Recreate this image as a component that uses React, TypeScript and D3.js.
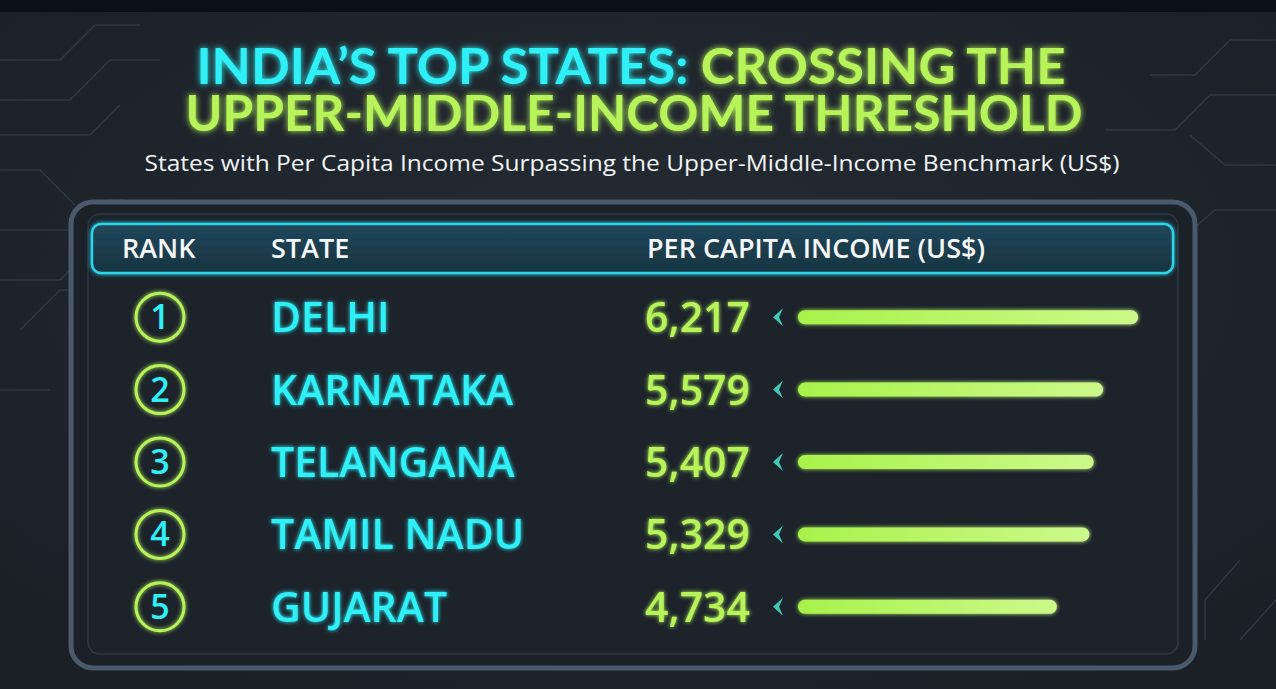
import React from 'react';
import * as d3 from 'd3';

const W = 1276;
const H = 689;

const ranks = ['1', '2', '3', '4', '5'];
const states = ['DELHI', 'KARNATAKA', 'TELANGANA', 'TAMIL NADU', 'GUJARAT'];
const incomes = [6217, 5579, 5407, 5329, 4734];
const headers = ['RANK', 'STATE', 'PER CAPITA INCOME (US$)'];

const CYAN = '#2ff0f6';
const GREEN = '#b6f45a';
const FONT = "'Open Sans', 'Noto Sans', sans-serif";
const TITLE_FONT = "Lato, 'Open Sans', sans-serif";

// decorative circuit traces in the corners
const circuitLeft = [
  'M0,60 L60,60 L95,25 L140,25',
  'M0,100 L70,100 L110,60 L160,60',
  'M0,135 L90,135 L120,105',
  'M0,170 L40,170 L75,205',
  'M0,230 L80,230 L110,200 L125,200',
  'M0,280 L60,280 L95,245',
  'M20,330 L60,290 L95,290',
  'M0,390 L50,390',
];
const circuitRight = [
  'M1276,40 L1230,40 L1195,75 L1150,75',
  'M1276,95 L1210,95 L1175,130 L1105,130',
  'M1276,165 L1225,165 L1190,135',
  'M1276,210 L1215,210 L1180,240',
  'M1240,560 L1205,600 L1205,640',
  'M1276,600 L1240,640',
];

export default function App() {
  const band = d3.scaleBand<string>().domain(states).range([281, 643]).padding(0);
  const x = d3.scaleLinear().domain([0, d3.max(incomes) as number]).range([0, 340]);
  const fmt = d3.format(',');
  const barX = 798;

  return (
    <svg width={W} height={H} style={{ position: 'absolute', left: 0, top: 0, display: 'block' }}>
      <defs>
        <filter id="glow" x="-20%" y="-50%" width="140%" height="200%">
          <feGaussianBlur stdDeviation="3" result="b" />
          <feMerge>
            <feMergeNode in="b" />
            <feMergeNode in="SourceGraphic" />
          </feMerge>
        </filter>
        <filter id="softglow" x="-20%" y="-80%" width="140%" height="260%">
          <feGaussianBlur stdDeviation="2" result="b" />
          <feMerge>
            <feMergeNode in="b" />
            <feMergeNode in="SourceGraphic" />
          </feMerge>
        </filter>
        <linearGradient id="barGrad" x1="0" x2="1">
          <stop offset="0" stopColor="#a8f24a" />
          <stop offset="1" stopColor="#ccf98a" />
        </linearGradient>
        <linearGradient id="headGrad" x1="0" x2="0" y1="0" y2="1">
          <stop offset="0" stopColor="#21475a" />
          <stop offset="1" stopColor="#173441" />
        </linearGradient>
        <linearGradient id="sepGrad" x1="0" x2="1">
          <stop offset="0" stopColor="#4fb9c4" />
          <stop offset="0.08" stopColor="#34434f" />
          <stop offset="0.5" stopColor="#34434f" />
          <stop offset="0.62" stopColor="#8fe0a0" />
          <stop offset="0.72" stopColor="#34434f" />
          <stop offset="1" stopColor="#34434f" />
        </linearGradient>
        <radialGradient id="bgGrad" cx="0.5" cy="0.4" r="0.7">
          <stop offset="0" stopColor="#242b33" />
          <stop offset="1" stopColor="#1b2027" />
        </radialGradient>
      </defs>

      <rect width={W} height={H} fill="url(#bgGrad)" />
      <rect width={W} height={12} fill="#0b0f17" />

      <g stroke="#2c3a44" strokeWidth={1.5} fill="none">
        {circuitLeft.concat(circuitRight).map((d, i) => (
          <path key={i} d={d} />
        ))}
      </g>

      {/* title: one text element, two lines */}
      <text filter="url(#glow)" fontFamily={TITLE_FONT} fontWeight={700} fontSize={50} textAnchor="middle">
        <tspan x={631} y={84} textLength={869} lengthAdjust="spacingAndGlyphs">
          <tspan fill={CYAN}>INDIA’S TOP STATES: </tspan>
          <tspan fill={GREEN}>CROSSING THE</tspan>
        </tspan>
        <tspan x={634} y={131} fill={GREEN} textLength={897} lengthAdjust="spacingAndGlyphs">
          UPPER-MIDDLE-INCOME THRESHOLD
        </tspan>
      </text>
      <text x={632} y={171} fontFamily={FONT} fontSize={22} fill="#f2f4f6" textAnchor="middle"
        textLength={975} lengthAdjust="spacingAndGlyphs">
        States with Per Capita Income Surpassing the Upper-Middle-Income Benchmark (US$)
      </text>

      {/* frame */}
      <rect x={71} y={202} width={1124} height={466} rx={22} fill="#1b2128" stroke="#4a5a6a" strokeWidth={5} />
      <rect x={88} y={214} width={1090} height={440} rx={12} fill="#1c232b" stroke="#2c3944" strokeWidth={1.5} />
      <line x1={92} x2={1175} y1={645} y2={645} stroke={CYAN} strokeWidth={2} opacity={0.55} filter="url(#softglow)" />

      {/* header */}
      <rect x={92} y={224} width={1081} height={49} rx={9} fill="url(#headGrad)" stroke="#2ad6ea" strokeWidth={2.5}
        filter="url(#softglow)" />
      <g fontFamily={FONT} fontWeight={600} fontSize={27} fill="#f4f7f8">
        {headers.map((h, i) => (
          <text key={h} x={[122, 271, 647][i]} y={258}>{h}</text>
        ))}
      </g>

      {/* rows */}
      {states.map((s, i) => {
        const y0 = band(s) as number;
        const cy = y0 + band.bandwidth() / 2;
        return (
          <g key={s}>
            {i > 0 && (
              <line x1={92} x2={1173} y1={y0} y2={y0} stroke="url(#sepGrad)" strokeWidth={1.5} />
            )}
            <circle cx={160} cy={cy} r={24} fill="none" stroke={GREEN} strokeWidth={3} filter="url(#softglow)" />
            <text x={160} y={cy + 12} textAnchor="middle" fontFamily={FONT} fontWeight={600} fontSize={34}
              fill={CYAN}>{ranks[i]}</text>
            <text x={271} y={cy + 15} fontFamily={FONT} fontWeight={600} fontSize={41} fill={CYAN}
              filter="url(#softglow)">{s}</text>
            <text x={750} y={cy + 15} textAnchor="end" fontFamily={FONT} fontWeight={600} fontSize={41} fill={GREEN}
              filter="url(#softglow)">{fmt(incomes[i])}</text>
            <path d={`M783,${cy - 9} L773,${cy} L783,${cy + 9} L779,${cy} Z`} fill="#3fc9b8" />
            <rect x={barX} y={cy - 7} width={x(incomes[i])} height={14} rx={7} fill="url(#barGrad)"
              filter="url(#softglow)" />
          </g>
        );
      })}
    </svg>
  );
}
